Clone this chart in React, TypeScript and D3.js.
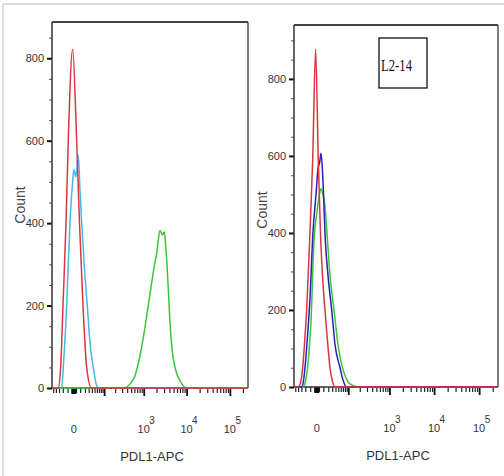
import React, { useEffect, useRef } from "react";
import * as d3 from "d3";

// PDL1-APC flow histograms. x = fluorescence (biexponential-like axis), y = cell count

// left panel
const leftCyanX = [-55, -22.8, -18.9, -11.7, -5.8, -1.7, 0.1, 3, 6.6, 9.6, 12.9, 18.9, 26, 33.9, 45, 56, 66.5, 262144];
const leftCyanY = [0, 0, 50, 200, 400, 500, 530, 512, 565, 480, 400, 290, 200, 110, 50, 12, 0, 0];
const leftGreenX = [-55, 321, 469, 619, 895, 1281, 1565, 1840, 2018, 2198, 2410, 2728, 3035, 3238, 3507, 3800, 4117, 4585, 5380, 7025, 10043, 262144];
const leftGreenY = [0, 0, 10, 30, 100, 200, 260, 306, 327, 359, 383, 371, 379, 350, 300, 230, 160, 95, 50, 18, 0, 0];
const leftRedX = [-55, -33, -25.5, -19.6, -13, -8.7, -1.7, 4, 8.7, 15.6, 24.4, 38.8, 262144];
const leftRedY = [0, 0, 50, 200, 400, 600, 822, 600, 400, 200, 50, 0, 0];

// right panel (L2-14)
const rightGreenX = [-55, -25.6, -19.6, -14.2, -8.6, -3.8, 0.3, 3.7, 6, 9.3, 13, 17.1, 24.1, 35.3, 49, 65.8, 80.8, 111.8, 180.8, 262144];
const rightGreenY = [0, 0, 15, 60, 170, 380, 455, 500, 515, 500, 470, 400, 290, 200, 110, 55, 30, 8, 0, 0];
const rightBlueX = [-55, -29.1, -24.4, -20.7, -15.2, -10.4, -5.4, -1, 2, 3.7, 6, 8.5, 11.1, 13, 19.4, 28.6, 38.5, 57, 70.5, 90.4, 262144];
const rightBlueY = [0, 0, 15, 50, 130, 230, 400, 500, 572, 580, 607, 560, 470, 400, 290, 200, 110, 50, 18, 0, 0];
const rightRedX = [-55, -39.4, -32.6, -26.4, -21.9, -16.9, -10.4, -5.8, -1.5, 2, 5.2, 9.3, 13, 18.2, 24.1, 30.8, 38.5, 262144];
const rightRedY = [0, 0, 10, 50, 110, 200, 400, 590, 877, 590, 400, 270, 200, 120, 50, 15, 0, 0];

// axes
const xDomain = [-55, 262144];
const xLabelValues = [0, 1000, 10000, 100000];
const xLabelExps = ["", "3", "4", "5"];
const xMajorTicks = [100, 1000, 10000, 100000];
const xMinorTicks = [-50, -40, -30, -20, -10, -3, -2, -1, 0, 1, 2, 3,
  10, 20, 30, 40, 50, 60, 70, 80, 90,
  200, 300, 400, 500, 600, 700, 800, 900,
  2000, 3000, 4000, 5000, 6000, 7000, 8000, 9000,
  20000, 30000, 40000, 50000, 60000, 70000, 80000, 90000, 200000];
const yMajorTicks = [0, 200, 400, 600, 800];
const yMinorStep = 50;

const RED = "#dc3540";
const CYAN = "#44b8e6";
const GREEN = "#3ec43a";
const BLUE = "#2323b8";
const AXIS = "#333";
const NARROW = "'Liberation Sans Narrow', 'Arial Narrow', 'Liberation Sans', Arial, sans-serif";

const panels = [
  {
    left: 52, top: 22, right: 248, bottom: 388, yMax: 888, countX: 25, countY: 205, tag: null,
    series: [
      { x: leftCyanX, y: leftCyanY, color: CYAN },
      { x: leftGreenX, y: leftGreenY, color: GREEN },
      { x: leftRedX, y: leftRedY, color: RED },
    ],
  },
  {
    left: 294, top: 25, right: 498, bottom: 387, yMax: 940, countX: 267, countY: 210, tag: "L2-14",
    series: [
      { x: rightGreenX, y: rightGreenY, color: GREEN },
      { x: rightBlueX, y: rightBlueY, color: BLUE },
      { x: rightRedX, y: rightRedY, color: RED },
    ],
  },
];

function drawPanel(svg, p) {
  const x = d3.scaleSymlog().constant(25).domain(xDomain).range([p.left, p.right]);
  const y = d3.scaleLinear().domain([0, p.yMax]).range([p.bottom, p.top]);
  const g = svg.append("g");

  // frame: top + right
  g.append("line").attr("x1", p.left).attr("x2", p.right).attr("y1", p.top).attr("y2", p.top)
    .attr("stroke", "#444").attr("stroke-width", 2);
  g.append("line").attr("x1", p.right).attr("x2", p.right).attr("y1", p.top).attr("y2", p.bottom)
    .attr("stroke", "#444").attr("stroke-width", 1.4);

  // y axis
  const minor = d3.range(0, p.yMax, yMinorStep);
  g.append("g").attr("transform", `translate(${p.left},0)`)
    .call(d3.axisLeft(y).tickValues(minor).tickSize(3).tickFormat(() => ""))
    .call(a => a.select(".domain").remove())
    .selectAll("line").attr("stroke", "#555");
  const yMaj = g.append("g").attr("transform", `translate(${p.left},0)`)
    .call(d3.axisLeft(y).tickValues(yMajorTicks).tickSize(5).tickPadding(3));
  yMaj.select(".domain").remove();
  yMaj.selectAll("line").attr("stroke", "#111").attr("stroke-width", 2);
  yMaj.selectAll("text").attr("font-family", NARROW).attr("font-size", 11).attr("fill", "#333");
  g.append("line").attr("x1", p.left).attr("x2", p.left).attr("y1", p.top).attr("y2", p.bottom)
    .attr("stroke", AXIS).attr("stroke-width", 1.5);

  // x axis
  const xMin = g.append("g").attr("transform", `translate(0,${p.bottom})`)
    .call(d3.axisBottom(x).tickValues(xMinorTicks).tickSize(5).tickFormat(() => ""));
  xMin.select(".domain").remove();
  xMin.selectAll("line").attr("stroke", "#222").attr("stroke-width", 1.2);
  const xMaj = g.append("g").attr("transform", `translate(0,${p.bottom})`)
    .call(d3.axisBottom(x).tickValues(xMajorTicks).tickSize(8).tickFormat(() => ""));
  xMaj.select(".domain").remove();
  xMaj.selectAll("line").attr("stroke", "#111").attr("stroke-width", 1.8);
  g.append("rect").attr("x", x(0) - 2.5).attr("y", p.bottom + 1).attr("width", 5).attr("height", 5).attr("fill", "#111");
  g.append("line").attr("x1", p.left).attr("x2", p.right).attr("y1", p.bottom).attr("y2", p.bottom)
    .attr("stroke", AXIS).attr("stroke-width", 1.5);

  const lbl = g.selectAll(".xl").data(xLabelValues).enter().append("text")
    .attr("x", d => x(d)).attr("y", p.bottom + 45)
    .attr("text-anchor", "middle").attr("font-family", NARROW).attr("font-size", 11).attr("fill", "#333");
  lbl.append("tspan").text(d => (d === 0 ? "0" : "10"));
  g.selectAll(".xe").data(xLabelValues.filter((d, i) => xLabelExps[i] !== "")).enter().append("text")
    .attr("x", d => x(d) + 5.5).attr("y", p.bottom + 36)
    .attr("font-family", NARROW).attr("font-size", 10).attr("fill", "#333")
    .text(d => xLabelExps[xLabelValues.indexOf(d)]);

  g.append("text").attr("x", (p.left + p.right) / 2 + 2).attr("y", p.bottom + 73)
    .attr("text-anchor", "middle").attr("font-family", NARROW).attr("font-size", 13).attr("fill", "#333")
    .text("PDL1-APC");
  g.append("text").attr("transform", `translate(${p.countX},${p.countY}) rotate(-90)`)
    .attr("text-anchor", "middle").attr("font-family", "'Liberation Sans', Arial, sans-serif")
    .attr("font-size", 14).attr("fill", "#444").text("Count");

  // histograms
  const line = d3.line().x(d => x(d[0])).y(d => y(d[1])).curve(d3.curveMonotoneX);
  p.series.forEach(s => {
    g.append("path").datum(s.x.map((v, i) => [v, s.y[i]]))
      .attr("d", line).attr("fill", "none").attr("stroke", s.color).attr("stroke-width", 1.5);
  });

  if (p.tag) {
    g.append("rect").attr("x", 379).attr("y", 38).attr("width", 48).attr("height", 50)
      .attr("fill", "white").attr("stroke", "#111").attr("stroke-width", 1.3);
    g.append("text").attr("x", 381).attr("y", 71).attr("font-family", "'Liberation Serif', 'Times New Roman', serif")
      .attr("font-size", 17).attr("textLength", 31).attr("lengthAdjust", "spacingAndGlyphs")
      .attr("fill", "#111").text(p.tag);
  }
}

export default function App() {
  const ref = useRef(null);
  useEffect(() => {
    const svg = d3.select(ref.current);
    svg.selectAll("*").remove();
    svg.append("rect").attr("width", 504).attr("height", 476).attr("fill", "white");
    svg.append("line").attr("x1", 3).attr("x2", 504).attr("y1", 4).attr("y2", 4).attr("stroke", "#dcdcdc").attr("stroke-width", 2);
    svg.append("line").attr("x1", 3).attr("x2", 3).attr("y1", 4).attr("y2", 476).attr("stroke", "#dcdcdc").attr("stroke-width", 2);
    panels.forEach(p => drawPanel(svg, p));
  }, []);
  return (
    <svg ref={ref} width={504} height={476} style={{ position: "absolute", left: 0, top: 0 }} />
  );
}
